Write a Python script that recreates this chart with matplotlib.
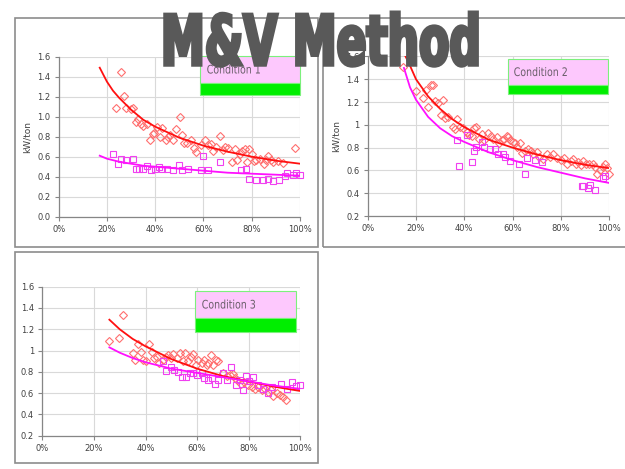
import matplotlib
matplotlib.use("Agg")
import matplotlib.pyplot as plt
from matplotlib.patches import Rectangle
from matplotlib.ticker import FuncFormatter
from matplotlib.transforms import Affine2D
import matplotlib.patheffects as pe

W, H = 625, 469

# ---- Condition 1 ----
c1_red_x = [25.8, 23.9, 26.9, 27.9, 29.8, 30.8, 31.9, 32.8, 34.1, 35.0, 36.4, 37.8, 38.9, 39.6,
            40.6, 41.9, 43.0, 44.4, 45.4, 46.3, 47.4, 48.8, 50.1, 50.9, 51.9, 53.0, 55.0, 56.1,
            57.1, 58.8, 60.8, 61.9, 63.0, 64.0, 65.1, 67.0, 68.1, 69.0, 70.3, 71.9, 73.0, 73.9,
            75.0, 76.1, 77.1, 78.1, 79.0, 80.0, 81.0, 81.9, 83.3, 85.0, 86.1, 86.9, 88.1, 89.0,
            91.0, 93.0, 98.1]
c1_red_y = [1.45, 1.09, 1.21, 1.09, 1.08, 1.09, 0.95, 0.98, 0.93, 0.91, 0.93, 0.77, 0.83, 0.84,
            0.90, 0.80, 0.89, 0.77, 0.80, 0.82, 0.77, 0.88, 1.00, 0.82, 0.74, 0.74, 0.77, 0.69,
            0.65, 0.72, 0.77, 0.72, 0.73, 0.66, 0.70, 0.81, 0.67, 0.70, 0.69, 0.55, 0.68, 0.57,
            0.63, 0.66, 0.68, 0.55, 0.68, 0.63, 0.56, 0.57, 0.58, 0.53, 0.57, 0.61, 0.57, 0.55,
            0.56, 0.54, 0.69]
c1_mag_x = [22.6, 24.7, 25.7, 27.9, 30.8, 32.0, 33.4, 34.8, 36.4, 38.1, 39.9, 41.7, 43.0, 44.7,
            47.4, 49.8, 50.9, 53.7, 58.8, 59.9, 61.9, 66.8, 75.7, 77.8, 78.8, 81.7, 84.7, 86.8,
            88.8, 91.3, 93.9, 94.8, 97.1, 98.2, 99.9]
c1_mag_y = [0.63, 0.53, 0.58, 0.57, 0.58, 0.48, 0.48, 0.48, 0.51, 0.47, 0.48, 0.50, 0.48, 0.48,
            0.47, 0.52, 0.47, 0.48, 0.47, 0.61, 0.47, 0.55, 0.47, 0.48, 0.38, 0.37, 0.37, 0.38,
            0.36, 0.37, 0.41, 0.44, 0.42, 0.44, 0.42]
c1_fit_x = [17, 20, 22.5, 25, 30, 35, 40, 50, 60, 70, 80, 90, 100]
c1_fit_red = [1.49, 1.35, 1.26, 1.19, 1.07, 0.97, 0.90, 0.79, 0.71, 0.65, 0.60, 0.56, 0.53]
c1_fit_mag = [0.61, 0.58, 0.565, 0.55, 0.53, 0.51, 0.50, 0.48, 0.46, 0.44, 0.43, 0.42, 0.41]

# ---- Condition 2 ----
c2_red_x = [14.8, 20.0, 23.0, 24.1, 25.1, 26.2, 26.9, 27.9, 29.2, 31.0, 30.2, 32.0, 33.4, 35.2,
            36.1, 37.1, 38.2, 39.6, 41.0, 42.1, 43.0, 44.0, 44.8, 46.2, 47.2, 48.1, 49.9, 50.9,
            52.0, 53.4, 54.5, 55.4, 56.4, 57.5, 58.2, 58.9, 60.0, 61.0, 61.9, 63.0, 64.0, 65.0,
            66.3, 67.6, 68.6, 69.9, 71.0, 72.4, 74.1, 75.4, 76.8, 78.5, 79.9, 81.2, 82.6, 84.0,
            85.1, 86.2, 87.2, 88.1, 89.2, 90.3, 91.7, 93.1, 94.1, 95.0, 96.1, 97.2, 98.2, 99.2,
            100.0]
c2_red_y = [1.51, 1.30, 1.24, 1.31, 1.16, 1.35, 1.35, 1.21, 1.19, 1.22, 1.09, 1.06, 1.07, 0.98,
            0.96, 1.05, 0.98, 0.97, 0.94, 0.91, 0.90, 0.97, 0.98, 0.88, 0.92, 0.87, 0.93, 0.90,
            0.88, 0.89, 0.84, 0.87, 0.88, 0.90, 0.89, 0.87, 0.85, 0.84, 0.81, 0.84, 0.75, 0.77,
            0.79, 0.77, 0.74, 0.76, 0.72, 0.70, 0.74, 0.72, 0.74, 0.71, 0.69, 0.71, 0.66, 0.68,
            0.70, 0.66, 0.67, 0.65, 0.68, 0.66, 0.66, 0.66, 0.63, 0.57, 0.60, 0.63, 0.66, 0.62,
            0.57]
c2_mag_x = [36.8, 37.7, 41.0, 43.0, 44.0, 44.8, 47.2, 48.1, 50.6, 52.7, 54.1, 55.9, 56.8, 58.9,
            62.8, 65.1, 66.1, 69.4, 72.1, 88.6, 89.2, 91.0, 92.0, 94.1, 97.5, 98.2]
c2_mag_y = [0.87, 0.64, 0.91, 0.67, 0.77, 0.81, 0.85, 0.81, 0.79, 0.79, 0.74, 0.74, 0.72, 0.68,
            0.66, 0.57, 0.71, 0.69, 0.67, 0.46, 0.46, 0.45, 0.47, 0.43, 0.53, 0.55]
c2_fit_x = [15, 17.5, 20, 25, 30, 35, 40, 50, 60, 70, 80, 90, 100]
c2_fit_red = [1.63, 1.52, 1.40, 1.25, 1.14, 1.05, 0.98, 0.87, 0.80, 0.74, 0.69, 0.65, 0.62]
c2_fit_mag = [1.50, 1.33, 1.22, 1.07, 0.97, 0.90, 0.85, 0.76, 0.69, 0.63, 0.58, 0.53, 0.49]

# ---- Condition 3 ----
c3_red_x = [26.0, 29.8, 31.4, 35.0, 35.9, 37.0, 38.2, 38.9, 40.2, 41.5, 42.4, 43.3, 44.3, 45.3,
            46.6, 47.8, 48.6, 49.7, 50.8, 52.1, 53.4, 54.7, 55.3, 56.6, 57.5, 58.5, 59.6, 60.5,
            61.8, 62.7, 63.7, 64.3, 65.3, 66.3, 67.3, 68.2, 70.2, 71.4, 72.7, 74.0, 74.7, 75.6,
            76.9, 78.2, 79.8, 81.1, 82.4, 83.7, 85.0, 86.3, 87.6, 88.5, 89.5, 90.8, 92.1, 93.2,
            94.4]
c3_red_y = [1.09, 1.12, 1.33, 0.98, 0.91, 1.06, 0.99, 0.91, 0.90, 1.06, 0.99, 0.93, 0.94, 0.88,
            0.91, 0.94, 0.96, 0.93, 0.97, 0.93, 0.98, 0.90, 0.98, 0.90, 0.94, 0.97, 0.86, 0.91,
            0.88, 0.91, 0.86, 0.88, 0.96, 0.86, 0.91, 0.90, 0.79, 0.76, 0.77, 0.78, 0.74, 0.72,
            0.69, 0.70, 0.68, 0.66, 0.64, 0.66, 0.63, 0.64, 0.61, 0.63, 0.57, 0.60, 0.58, 0.56,
            0.54]
c3_mag_x = [46.9, 47.8, 49.7, 51.0, 52.7, 54.0, 55.7, 57.2, 58.5, 60.1, 61.8, 62.7, 64.3, 65.6,
            66.9, 68.2, 69.9, 71.4, 73.1, 75.1, 76.6, 77.6, 78.9, 80.2, 81.8, 83.7, 85.7, 87.3,
            88.9, 92.4, 94.7, 96.6, 98.3, 99.9]
c3_mag_y = [0.90, 0.81, 0.85, 0.82, 0.80, 0.75, 0.75, 0.79, 0.79, 0.77, 0.79, 0.74, 0.72, 0.74,
            0.69, 0.72, 0.79, 0.72, 0.85, 0.68, 0.72, 0.63, 0.76, 0.71, 0.75, 0.68, 0.64, 0.60,
            0.66, 0.69, 0.64, 0.70, 0.67, 0.68]
c3_fit_x = [26, 30, 35, 40, 50, 60, 70, 80, 90, 100]
c3_fit_red = [1.29, 1.20, 1.11, 1.04, 0.92, 0.83, 0.76, 0.71, 0.66, 0.62]
c3_fit_mag = [1.03, 0.98, 0.93, 0.89, 0.83, 0.79, 0.75, 0.71, 0.67, 0.64]

labels = ["Condition 1", "Condition 2", "Condition 3"]

RED_PT = "#ff6f6f"
MAG_PT = "#f040f0"
GRID = "#d9d9d9"
AXIS = "#868686"
TXT = "#404040"


class Narrow(pe.AbstractPathEffect):
    """Squeeze glyphs horizontally about the middle of the line, optionally fattening them."""

    def __init__(self, sx, stroke=0.0, color=None):
        super().__init__()
        self.sx = sx
        self.stroke = stroke
        self.color = color

    def draw_path(self, renderer, gc, tpath, affine, rgbFace=None):
        ext = tpath.get_extents()
        cx = 0.5 * (ext.x0 + ext.x1)
        tr = Affine2D().translate(-cx, 0).scale(self.sx, 1.0).translate(cx, 0) + affine
        if self.stroke > 0:
            gc0 = renderer.new_gc()
            gc0.copy_properties(gc)
            gc0.set_linewidth(self.stroke)
            gc0.set_foreground(self.color)
            gc0.set_joinstyle("miter")
            renderer.draw_path(gc0, tpath, tr, rgbFace)
            gc0.restore()
        else:
            renderer.draw_path(gc, tpath, tr, rgbFace)


def px(x0, y0, x1, y1):
    # pixel box (top-left origin) -> figure fraction rect
    return [x0 / W, 1 - y1 / H, (x1 - x0) / W, (y1 - y0) / H]


fig = plt.figure(figsize=(W / 100, H / 100), dpi=100)
fig.patch.set_facecolor("white")

# outer chart frames
for box in [(15, 18, 318, 247), (323, 18, 640, 247), (15, 252, 318, 463)]:
    l, b, w, h = px(*box)
    fig.add_artist(Rectangle((l, b), w, h, transform=fig.transFigure, fill=False,
                             edgecolor="#8c8c8c", lw=1.2, zorder=0))

axes_px = [(58.7, 56.7, 300, 216.7), (367.7, 56.5, 609.3, 216), (42.3, 286.7, 300.3, 435.7)]
ylims = [(0.0, 1.6), (0.2, 1.6), (0.2, 1.6)]
yfmt = ["{:.1f}", "{:g}", "{:g}"]
data = [
    (c1_red_x, c1_red_y, c1_mag_x, c1_mag_y, c1_fit_x, c1_fit_red, c1_fit_mag),
    (c2_red_x, c2_red_y, c2_mag_x, c2_mag_y, c2_fit_x, c2_fit_red, c2_fit_mag),
    (c3_red_x, c3_red_y, c3_mag_x, c3_mag_y, c3_fit_x, c3_fit_red, c3_fit_mag),
]

for i, (box, d) in enumerate(zip(axes_px, data)):
    ax = fig.add_axes(px(*box))
    rx, ry, mx, my, fx, fr, fm = d
    ax.plot(rx, ry, linestyle="none", marker="D", markersize=3.6, markerfacecolor="none",
            markeredgecolor=RED_PT, markeredgewidth=0.8, clip_on=False)
    ax.plot(mx, my, linestyle="none", marker="s", markersize=4.2, markerfacecolor="none",
            markeredgecolor=MAG_PT, markeredgewidth=0.8, clip_on=False)
    ax.plot(fx, fr, color="#ff1010", lw=1.3)
    ax.plot(fx, fm, color="#ff10ff", lw=1.3)

    ax.set_xlim(0, 100)
    ax.set_ylim(*ylims[i])
    ax.set_xticks([0, 20, 40, 60, 80, 100])
    ax.set_yticks([v / 10 for v in range(int(ylims[i][0] * 10), 17, 2)])
    ax.xaxis.set_major_formatter(FuncFormatter(lambda v, p: "{:.0f}%".format(v)))
    fmt = yfmt[i]
    ax.yaxis.set_major_formatter(FuncFormatter(lambda v, p, fmt=fmt: fmt.format(round(v, 1))))
    ax.grid(True, color=GRID, lw=0.8)
    ax.set_axisbelow(True)
    for s in ["top", "right"]:
        ax.spines[s].set_visible(False)
    for s in ["left", "bottom"]:
        ax.spines[s].set_color(AXIS)
        ax.spines[s].set_linewidth(0.9)
    ax.tick_params(length=3, width=0.8, color=AXIS, labelsize=6, labelcolor=TXT, pad=3)
    if i < 2:
        ax.set_ylabel("kW/ton", fontsize=6.5, color=TXT, labelpad=4)

# condition tags
tags = [(200, 56, 300, 83, 95, 207), (508, 59, 608, 85, 94, 514), (195, 291, 296, 318, 332, 202)]
for lab, (x0, y0, x1, ym, y1, tx) in zip(labels, tags):
    l, b, w, h = px(x0, y0, x1, ym)
    fig.add_artist(Rectangle((l, b), w, h, transform=fig.transFigure, facecolor="#fdc8fd",
                             edgecolor="#7cf07c", lw=0.8, zorder=5))
    l, b, w, h = px(x0, ym, x1, y1)
    fig.add_artist(Rectangle((l, b), w, h, transform=fig.transFigure, facecolor="#00ee00",
                             edgecolor="#7cf07c", lw=0.8, zorder=5))
    # squeezed about its centre, so pull the anchor left to keep the left edge at tx
    fig.text((tx - 7) / W, 1 - ((y0 + ym) / 2 + 0.5) / H, lab, fontsize=8.5, color="#6b5f6b",
             ha="left", va="center", zorder=6, path_effects=[Narrow(0.8)])

fig.text(321 / W, 1 - 65 / H, "M&V Method", fontsize=50, fontweight="bold", color="#595959",
         ha="center", va="baseline", zorder=10,
         path_effects=[Narrow(0.635, stroke=2.5, color="#595959")])

fig.savefig("out.png", dpi=100)
